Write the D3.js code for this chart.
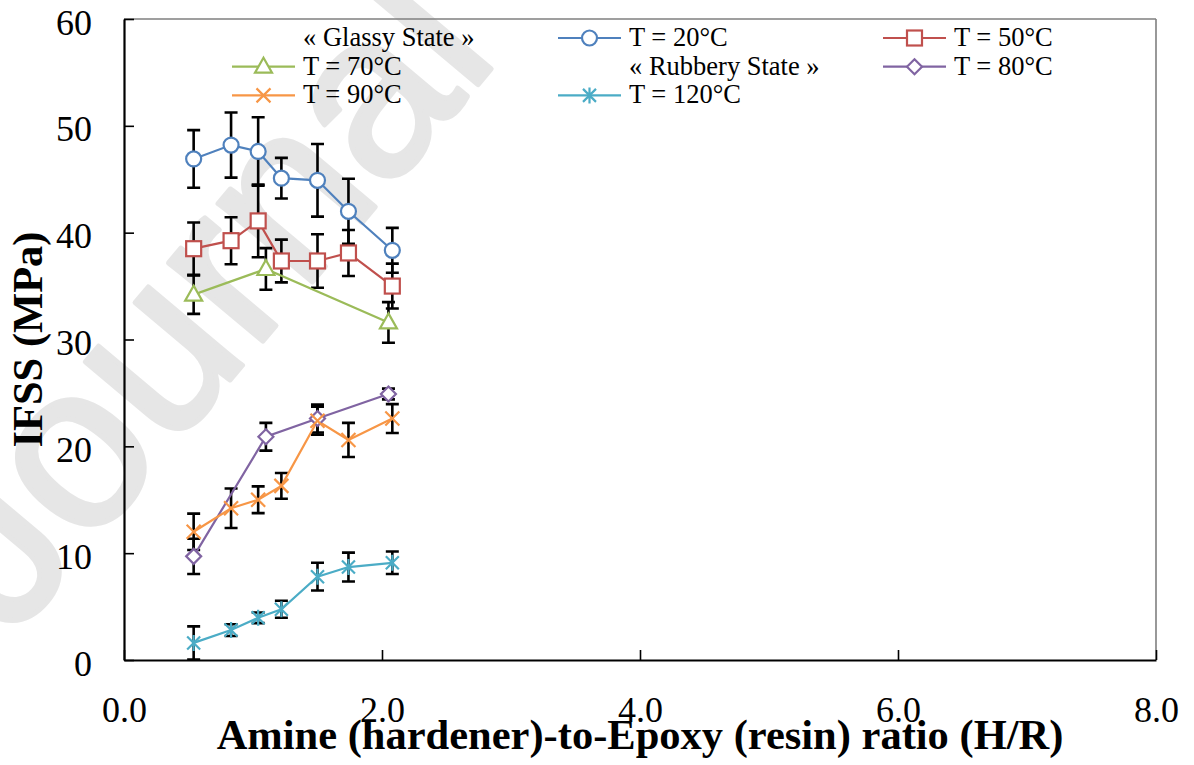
<!DOCTYPE html>
<html>
<head>
<meta charset="utf-8">
<script src="https://cdn.jsdelivr.net/npm/d3@7"></script>
<style>
  html, body { margin: 0; padding: 0; background: #ffffff; }
  svg { display: block; }
</style>
</head>
<body>
<svg id="chart" width="1194" height="765"></svg>
<script>
// ---- data ----
const ratioX   = [0.54, 0.83, 1.04, 1.22, 1.50, 1.74, 2.08];
const ratioX70 = [0.54, 1.10, 2.05];
const ratioX80 = [0.54, 1.10, 1.50, 2.05];

const ifss20  = [46.9, 48.2, 47.6, 45.1, 44.9, 42.0, 38.35];
const err20   = [2.7, 3.05, 3.2, 1.9, 3.4, 3.05, 2.1];
const ifss50  = [38.5, 39.25, 41.1, 37.35, 37.35, 38.1, 35.0];
const err50   = [2.45, 2.2, 3.4, 2.0, 2.5, 2.15, 2.1];
const ifss70  = [34.2, 36.6, 31.6];
const err70   = [1.8, 1.95, 1.9];
const ifss80  = [9.7, 20.9, 22.6, 24.9];
const err80   = [1.65, 1.3, 1.3, 0.5];
const ifss90  = [12.0, 14.2, 15.0, 16.3, 22.4, 20.6, 22.6];
const err90   = [1.7, 1.85, 1.25, 1.2, 1.3, 1.6, 1.35];
const ifss120 = [1.6, 2.8, 3.95, 4.75, 7.8, 8.7, 9.1];
const err120  = [1.55, 0.55, 0.5, 0.8, 1.3, 1.35, 1.05];

const xTicks = [0, 2, 4, 6, 8];
const yTicks = [0, 10, 20, 30, 40, 50, 60];

const xTitle = "Amine (hardener)-to-Epoxy (resin) ratio (H/R)";
const yTitle = "IFSS (MPa)";
const watermarkText = "Journal Pre-proof";

// legend entries, read row by row over three columns (null marker = heading only)
const legendLabels  = ["« Glassy State »", "T = 20°C", "T = 50°C", "T = 70°C", "« Rubbery State »", "T = 80°C", "T = 90°C", "T = 120°C"];
const legendMarkers = [null, "circle", "square", "triangle", null, "diamond", "cross", "star"];
const legendColors  = [null, "#4F81BD", "#C0504D", "#9BBB59", null, "#8064A2", "#F79646", "#4BACC6"];

// ---- series table ----
const series = [
  { x: ratioX,   y: ifss20,  e: err20,  marker: "circle",   color: "#4F81BD" },
  { x: ratioX,   y: ifss50,  e: err50,  marker: "square",   color: "#C0504D" },
  { x: ratioX70, y: ifss70,  e: err70,  marker: "triangle", color: "#9BBB59" },
  { x: ratioX80, y: ifss80,  e: err80,  marker: "diamond",  color: "#8064A2" },
  { x: ratioX,   y: ifss90,  e: err90,  marker: "cross",    color: "#F79646" },
  { x: ratioX,   y: ifss120, e: err120, marker: "star",     color: "#4BACC6" }
].map(s => ({ ...s, pts: s.x.map((v, i) => ({ x: v, y: s.y[i], e: s.e[i] })) }));

// ---- layout ----
const W = 1194, H = 765;
const plot = { left: 124, right: 1156, top: 19, bottom: 660 };
const serif = "'Liberation Serif', 'Times New Roman', serif";

const svg = d3.select("#chart");
svg.append("rect").attr("width", W).attr("height", H).attr("fill", "#ffffff");

// watermark behind everything
svg.append("text")
  .attr("transform", "translate(12,640) rotate(-50)")
  .attr("font-family", "'Liberation Sans', Arial, sans-serif")
  .attr("font-size", 232)
  .attr("fill", "#e6e6e6")
  .attr("stroke", "#e6e6e6")
  .attr("stroke-width", 5)
  .attr("stroke-linejoin", "round")
  .text(watermarkText);

const x = d3.scaleLinear().domain([0, 8]).range([plot.left, plot.right]);
const y = d3.scaleLinear().domain([0, 60]).range([plot.bottom, plot.top]);

// frame: grey top/right edges
svg.append("line")
  .attr("x1", plot.left).attr("x2", plot.right).attr("y1", plot.top).attr("y2", plot.top)
  .attr("stroke", "#7f7f7f").attr("stroke-width", 1.6);
svg.append("line")
  .attr("x1", plot.right).attr("x2", plot.right).attr("y1", plot.top).attr("y2", plot.bottom)
  .attr("stroke", "#7f7f7f").attr("stroke-width", 1.6);

// axes with inward ticks
const yAxis = d3.axisLeft(y).tickValues(yTicks).tickFormat(d3.format("d"))
  .tickSize(-10).tickSizeOuter(0).tickPadding(32);
const xAxis = d3.axisBottom(x).tickValues(xTicks).tickFormat(d3.format(".1f"))
  .tickSize(-10).tickSizeOuter(0).tickPadding(36);

const gy = svg.append("g").attr("transform", `translate(${plot.left},0)`).call(yAxis);
const gx = svg.append("g").attr("transform", `translate(0,${plot.bottom})`).call(xAxis);

[gx, gy].forEach(g => {
  g.select(".domain").attr("stroke", "#000").attr("stroke-width", 2.2);
  g.selectAll(".tick line").attr("stroke", "#000").attr("stroke-width", 1.6);
  g.selectAll(".tick text")
    .attr("font-family", serif).attr("font-size", 36).attr("fill", "#000");
});
gy.selectAll(".tick text").attr("dy", "0.42em");

// axis titles
svg.append("text")
  .attr("x", (plot.left + plot.right) / 2).attr("y", 749)
  .attr("text-anchor", "middle")
  .attr("font-family", serif).attr("font-weight", "bold").attr("font-size", 42.5)
  .attr("fill", "#000")
  .text(xTitle);

svg.append("text")
  .attr("transform", `translate(42,${(plot.top + plot.bottom) / 2}) rotate(-90)`)
  .attr("text-anchor", "middle")
  .attr("font-family", serif).attr("font-weight", "bold").attr("font-size", 42.5)
  .attr("fill", "#000")
  .text(yTitle);

// marker shapes centred on (0,0)
function drawMarker(g, type, color) {
  const sw = 2.2;
  if (type === "circle") {
    g.append("circle").attr("r", 7.5).attr("fill", "#fff").attr("stroke", color).attr("stroke-width", sw);
  } else if (type === "square") {
    g.append("rect").attr("x", -7.5).attr("y", -7.5).attr("width", 15).attr("height", 15)
      .attr("fill", "#fff").attr("stroke", color).attr("stroke-width", sw);
  } else if (type === "triangle") {
    g.append("path").attr("d", "M0,-9L8.5,6L-8.5,6Z")
      .attr("fill", "#fff").attr("stroke", color).attr("stroke-width", sw);
  } else if (type === "diamond") {
    g.append("path").attr("d", "M0,-7.5L7.5,0L0,7.5L-7.5,0Z")
      .attr("fill", "#fff").attr("stroke", color).attr("stroke-width", sw);
  } else if (type === "cross") {
    g.append("path").attr("d", "M-7,-7L7,7M-7,7L7,-7")
      .attr("fill", "none").attr("stroke", color).attr("stroke-width", sw);
  } else if (type === "star") {
    g.append("path").attr("d", "M-6.5,-6.5L6.5,6.5M-6.5,6.5L6.5,-6.5M0,-8L0,8")
      .attr("fill", "none").attr("stroke", color).attr("stroke-width", sw);
  }
}

// error bars
const errG = svg.append("g");
series.forEach(s => {
  s.pts.forEach(p => {
    const cx = x(p.x), t = y(p.y + p.e), b = y(p.y - p.e);
    errG.append("path")
      .attr("d", `M${cx},${t}L${cx},${b}M${cx - 6.5},${t}L${cx + 6.5},${t}M${cx - 6.5},${b}L${cx + 6.5},${b}`)
      .attr("fill", "none").attr("stroke", "#000").attr("stroke-width", 2.6);
  });
});

// lines
const line = d3.line().x(d => x(d.x)).y(d => y(d.y));
series.forEach(s => {
  svg.append("path").datum(s.pts).attr("d", line)
    .attr("fill", "none").attr("stroke", s.color).attr("stroke-width", 2.2);
});

// markers
series.forEach(s => {
  s.pts.forEach(p => {
    const g = svg.append("g").attr("transform", `translate(${x(p.x)},${y(p.y)})`);
    drawMarker(g, s.marker, s.color);
  });
});

// legend: 3 columns x 3 rows
const legCols = [232, 558, 883];
const legRowBase = 46, legRowStep = 28.7;
legendLabels.forEach((label, i) => {
  const col = i % 3, row = Math.floor(i / 3);
  const lx = legCols[col];
  const base = legRowBase + row * legRowStep;
  const g = svg.append("g");
  if (legendMarkers[i]) {
    const my = base - 8;
    g.append("line").attr("x1", lx).attr("x2", lx + 63).attr("y1", my).attr("y2", my)
      .attr("stroke", legendColors[i]).attr("stroke-width", 2.2);
    const mg = g.append("g").attr("transform", `translate(${lx + 31.5},${my})`);
    drawMarker(mg, legendMarkers[i], legendColors[i]);
  }
  g.append("text").attr("x", lx + 71).attr("y", base)
    .attr("font-family", serif).attr("font-size", 26.5).attr("fill", "#000")
    .text(label);
});
</script>
</body>
</html>
